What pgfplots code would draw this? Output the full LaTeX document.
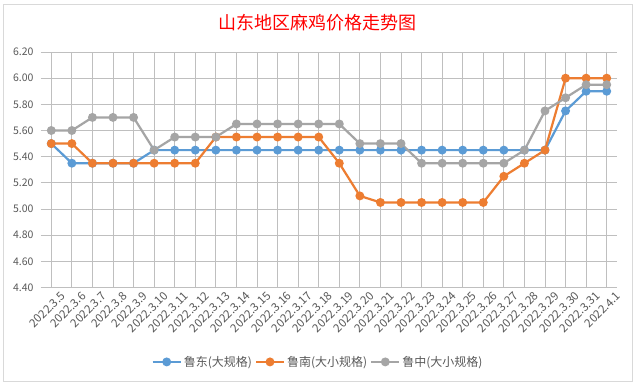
\documentclass[border=0pt]{standalone}
\usepackage{fontspec}
\setmainfont{Noto Sans CJK SC}
\usepackage{pgfplots}
\pgfplotsset{compat=1.18}
\definecolor{cblue}{HTML}{5B9BD5}
\definecolor{corange}{HTML}{ED7D31}
\definecolor{cgray}{HTML}{A5A5A5}
\definecolor{tgray}{HTML}{595959}
\definecolor{grid}{HTML}{D9D9D9}
\begin{document}
\begin{tikzpicture}
\useasboundingbox (0,0) rectangle (636bp,385bp);
\fill[white] (0,0) rectangle (636bp,385bp);
\draw[grid, line width=0.8bp] (3bp,4bp) rectangle (632bp,381bp);
\node[text=red, font=\fontsize{18bp}{20bp}\selectfont] at (317bp,362bp) {山东地区麻鸡价格走势图};
\begin{axis}[
  at={(41bp,97.5bp)}, anchor=south west,
  scale only axis, width=576bp, height=235.5bp,
  xmin=-0.5, xmax=27.5, ymin=4.4, ymax=6.2,
  ytick={4.4,4.6,...,6.21},
  /pgf/number format/fixed, /pgf/number format/fixed zerofill, /pgf/number format/precision=2,
  /pgf/number format/assume math mode=true,
  ymajorgrids, major grid style={grid, line width=0.8bp},
  axis line style={draw=none},
  major tick length=0pt,
  tick label style={text=tgray},
  yticklabel style={xshift=-4bp, font=\fontsize{10.5bp}{12bp}\selectfont},
  xtick={0,...,27},
  xticklabels={2022.3.5,2022.3.6,2022.3.7,2022.3.8,2022.3.9,2022.3.10,2022.3.11,2022.3.12,2022.3.13,2022.3.14,2022.3.15,2022.3.16,2022.3.17,2022.3.18,2022.3.19,2022.3.20,2022.3.21,2022.3.22,2022.3.23,2022.3.24,2022.3.25,2022.3.26,2022.3.27,2022.3.28,2022.3.29,2022.3.30,2022.3.31,2022.4.1},
  xticklabel style={rotate=45, anchor=east, inner sep=0pt, xshift=4bp, yshift=-13bp, font=\fontsize{11.5bp}{13bp}\selectfont},
  legend columns=3,
  legend style={at={(0.481,-0.316)}, anchor=center, draw=none, fill=none,
    font=\fontsize{12bp}{14bp}\selectfont, text=tgray,
    /tikz/every even column/.append style={column sep=1bp}},
  legend image code/.code={\draw[mark repeat=2,mark phase=2] plot coordinates {(0bp,0bp) (14bp,0bp) (28bp,0bp)};},
  every axis plot/.append style={line width=2.2bp, mark=*, mark size=3.3bp, mark options={solid}},
]
\addplot[cblue, mark options={fill=cblue, draw=cblue}] coordinates {
(0,5.50)(1,5.35)(2,5.35)(3,5.35)(4,5.35)(5,5.45)(6,5.45)(7,5.45)(8,5.45)(9,5.45)(10,5.45)(11,5.45)(12,5.45)(13,5.45)(14,5.45)(15,5.45)(16,5.45)(17,5.45)(18,5.45)(19,5.45)(20,5.45)(21,5.45)(22,5.45)(23,5.45)(24,5.45)(25,5.75)(26,5.90)(27,5.90)};
\addlegendentry{鲁东(大规格)}
\addplot[corange, mark options={fill=corange, draw=corange}] coordinates {
(0,5.50)(1,5.50)(2,5.35)(3,5.35)(4,5.35)(5,5.35)(6,5.35)(7,5.35)(8,5.55)(9,5.55)(10,5.55)(11,5.55)(12,5.55)(13,5.55)(14,5.35)(15,5.10)(16,5.05)(17,5.05)(18,5.05)(19,5.05)(20,5.05)(21,5.05)(22,5.25)(23,5.35)(24,5.45)(25,6.00)(26,6.00)(27,6.00)};
\addlegendentry{鲁南(大小规格)}
\addplot[cgray, mark options={fill=cgray, draw=cgray}] coordinates {
(0,5.60)(1,5.60)(2,5.70)(3,5.70)(4,5.70)(5,5.45)(6,5.55)(7,5.55)(8,5.55)(9,5.65)(10,5.65)(11,5.65)(12,5.65)(13,5.65)(14,5.65)(15,5.50)(16,5.50)(17,5.50)(18,5.35)(19,5.35)(20,5.35)(21,5.35)(22,5.35)(23,5.45)(24,5.75)(25,5.85)(26,5.95)(27,5.95)};
\addlegendentry{鲁中(大小规格)}
\end{axis}
\end{tikzpicture}
\end{document}
